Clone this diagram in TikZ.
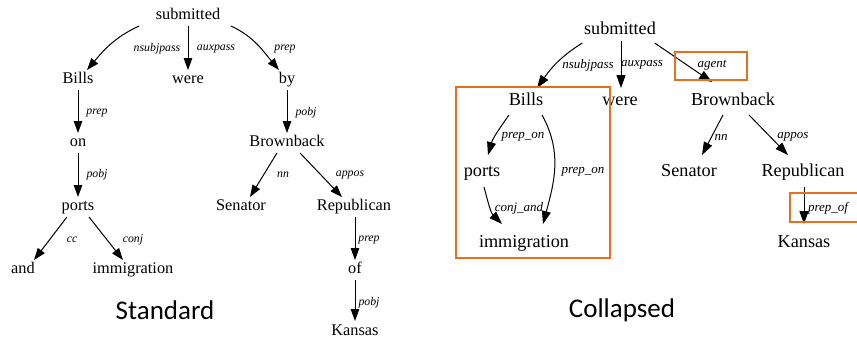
\documentclass[tikz,border=0pt]{standalone}
\usepackage{fontspec}
\setmainfont{Liberation Serif}
\newfontfamily\capfont{Carlito}
\usetikzlibrary{arrows.meta}
\definecolor{hlorange}{RGB}{228,112,32}
\tikzset{
 wl/.style={font=\fontsize{16.3}{18}\selectfont, text height=11pt, text depth=3.5pt, inner sep=2.5pt},
 wr/.style={font=\fontsize{18.2}{20}\selectfont, text height=12.5pt, text depth=4pt, inner sep=2.5pt},
 ll/.style={font=\fontsize{11.8}{13}\selectfont\itshape, inner sep=0pt},
 lr/.style={font=\fontsize{13}{15}\selectfont\itshape, inner sep=0pt},
 depl/.style={-{Triangle[length=12pt,width=8.5pt]}, line width=1pt},
 depr/.style={-{Triangle[length=13pt,width=9pt]}, line width=1pt},
 hl/.style={draw=hlorange, line width=2pt},
 capt/.style={font=\capfont\fontsize{27}{30}\selectfont, inner sep=0pt}
}
\begin{document}
\begin{tikzpicture}[x=1pt,y=1pt]
\useasboundingbox (0,0) rectangle (857,-338);
\fill[white] (0,0) rectangle (857,-338);
% ---------- Standard ----------
\node[wl] (sub) at (188,-16) {submitted};
\node[wl] (bills) at (78,-80) {Bills};
\node[wl] (were) at (188,-80) {were};
\node[wl] (by) at (287,-80) {by};
\node[wl] (on) at (78,-143) {on};
\node[wl] (bb) at (287,-143) {Brownback};
\node[wl] (ports) at (78,-207) {ports};
\node[wl] (sen) at (241,-207) {Senator};
\node[wl] (rep) at (354,-207) {Republican};
\node[wl] (and) at (23,-270) {and};
\node[wl] (imm) at (133,-270) {immigration};
\node[wl] (of) at (355,-270) {of};
\node[wl] (kan) at (355,-332) {Kansas};

\draw[depl] ([xshift=-14pt]sub.south west) to[out=205,in=50] ([xshift=9pt]bills.north);
\draw[depl] (sub) -- (were);
\draw[depl] ([xshift=8pt]sub.south east) to[out=-25,in=130] ([xshift=-8pt]by.north);
\draw[depl] (bills) -- (on);
\draw[depl] (by) -- (bb);
\draw[depl] (on) -- (ports);
\draw[depl] ([xshift=-10pt]bb.south) -- ([xshift=9pt]sen.north);
\draw[depl] ([xshift=13pt]bb.south) -- ([xshift=-12pt]rep.north);
\draw[depl] ([xshift=-11pt]ports.south) -- ([xshift=11pt]and.north);
\draw[depl] ([xshift=11pt]ports.south) -- ([xshift=-10pt]imm.north);
\draw[depl] ([xshift=1pt]rep.south) -- (of.north);
\draw[depl] (of) -- ([yshift=1pt]kan.north);

\node[ll] (l1) at (157,-49) {nsubjpass};
\node[ll] (l2) at (216,-49) {auxpass};
\node[ll] (l3) at (285,-49) {prep};
\node[ll] (l4) at (97,-113) {prep};
\node[ll] (l5) at (306,-113) {pobj};
\node[ll] (l6) at (97,-175) {pobj};
\node[ll] (l7) at (283,-175) {nn};
\node[ll] (l8) at (350,-175) {appos};
\node[ll] (l9) at (72,-240) {cc};
\node[ll] (l10) at (133,-240) {conj};
\node[ll] (l11) at (369,-240) {prep};
\node[ll] (l12) at (369,-303) {pobj};

\node[capt] (std) at (165,-310) {Standard};

% ---------- Collapsed ----------
\node[wr] (sub2) at (620,-30) {submitted};
\node[wr] (bills2) at (526,-101) {Bills};
\node[wr] (were2) at (620,-101) {were};
\node[wr] (bb2) at (733,-101) {Brownback};
\node[wr] (ports2) at (482,-172) {ports};
\node[wr] (sen2) at (689,-172) {Senator};
\node[wr] (rep2) at (803,-172) {Republican};
\node[wr] (imm2) at (524,-243) {immigration};
\node[wr] (kan2) at (804,-243) {Kansas};

\draw[depr] ([xshift=1pt,yshift=-2pt]sub2.south west) to[out=212,in=55] ([shift={(11pt,2pt)}]bills2.north);
\draw[depr] ([xshift=1pt]sub2.south) -- ([xshift=1pt,yshift=2pt]were2.north);
\draw[depr] ([shift={(-4pt,-2pt)}]sub2.south east) -- ([shift={(-21pt,8pt)}]bb2.north);
\draw[depr] ([xshift=-17pt,yshift=-3pt]bills2.south) to[out=235,in=74] ([xshift=6pt,yshift=6pt]ports2.north);
\draw[depr] ([xshift=16pt,yshift=-3pt]bills2.south) to[out=-61,in=75] ([xshift=19pt,yshift=8pt]imm2.north);
\draw[depr] ([xshift=2pt,yshift=-4pt]ports2.south) to[out=-75,in=135] ([shift={(-22pt,8pt)}]imm2.north);
\draw[depr] ([xshift=-10pt,yshift=-3pt]bb2.south) -- ([shift={(13pt,6pt)}]sen2.north);
\draw[depr] ([xshift=16pt,yshift=-3pt]bb2.south) -- ([shift={(-15pt,6pt)}]rep2.north);
\draw[depr] ([xshift=1pt,yshift=-4pt]rep2.south) -- ([yshift=8pt]kan2.north);

\node[lr] (r1) at (588,-65) {nsubjpass};
\node[lr] (r2) at (642,-65) {auxpass};
\node[lr] (r3) at (712,-65) {agent};
\node[lr] (r4) at (523,-137) {prep\_on};
\node[lr] (r5) at (583,-172) {prep\_on};
\node[lr] (r6) at (519,-208) {conj\_and};
\node[lr] (r7) at (721,-137) {nn};
\node[lr] (r8) at (793,-137) {appos};
\node[lr] (r9) at (828,-208) {prep\_of};

\draw[hl] (675,-52) rectangle (747,-80);
\draw[hl] (456,-87) rectangle (610,-258);
\draw[hl] (790,-193) rectangle (862,-222);

\node[capt] (col) at (622,-310) {Collapsed};
\end{tikzpicture}
\end{document}
